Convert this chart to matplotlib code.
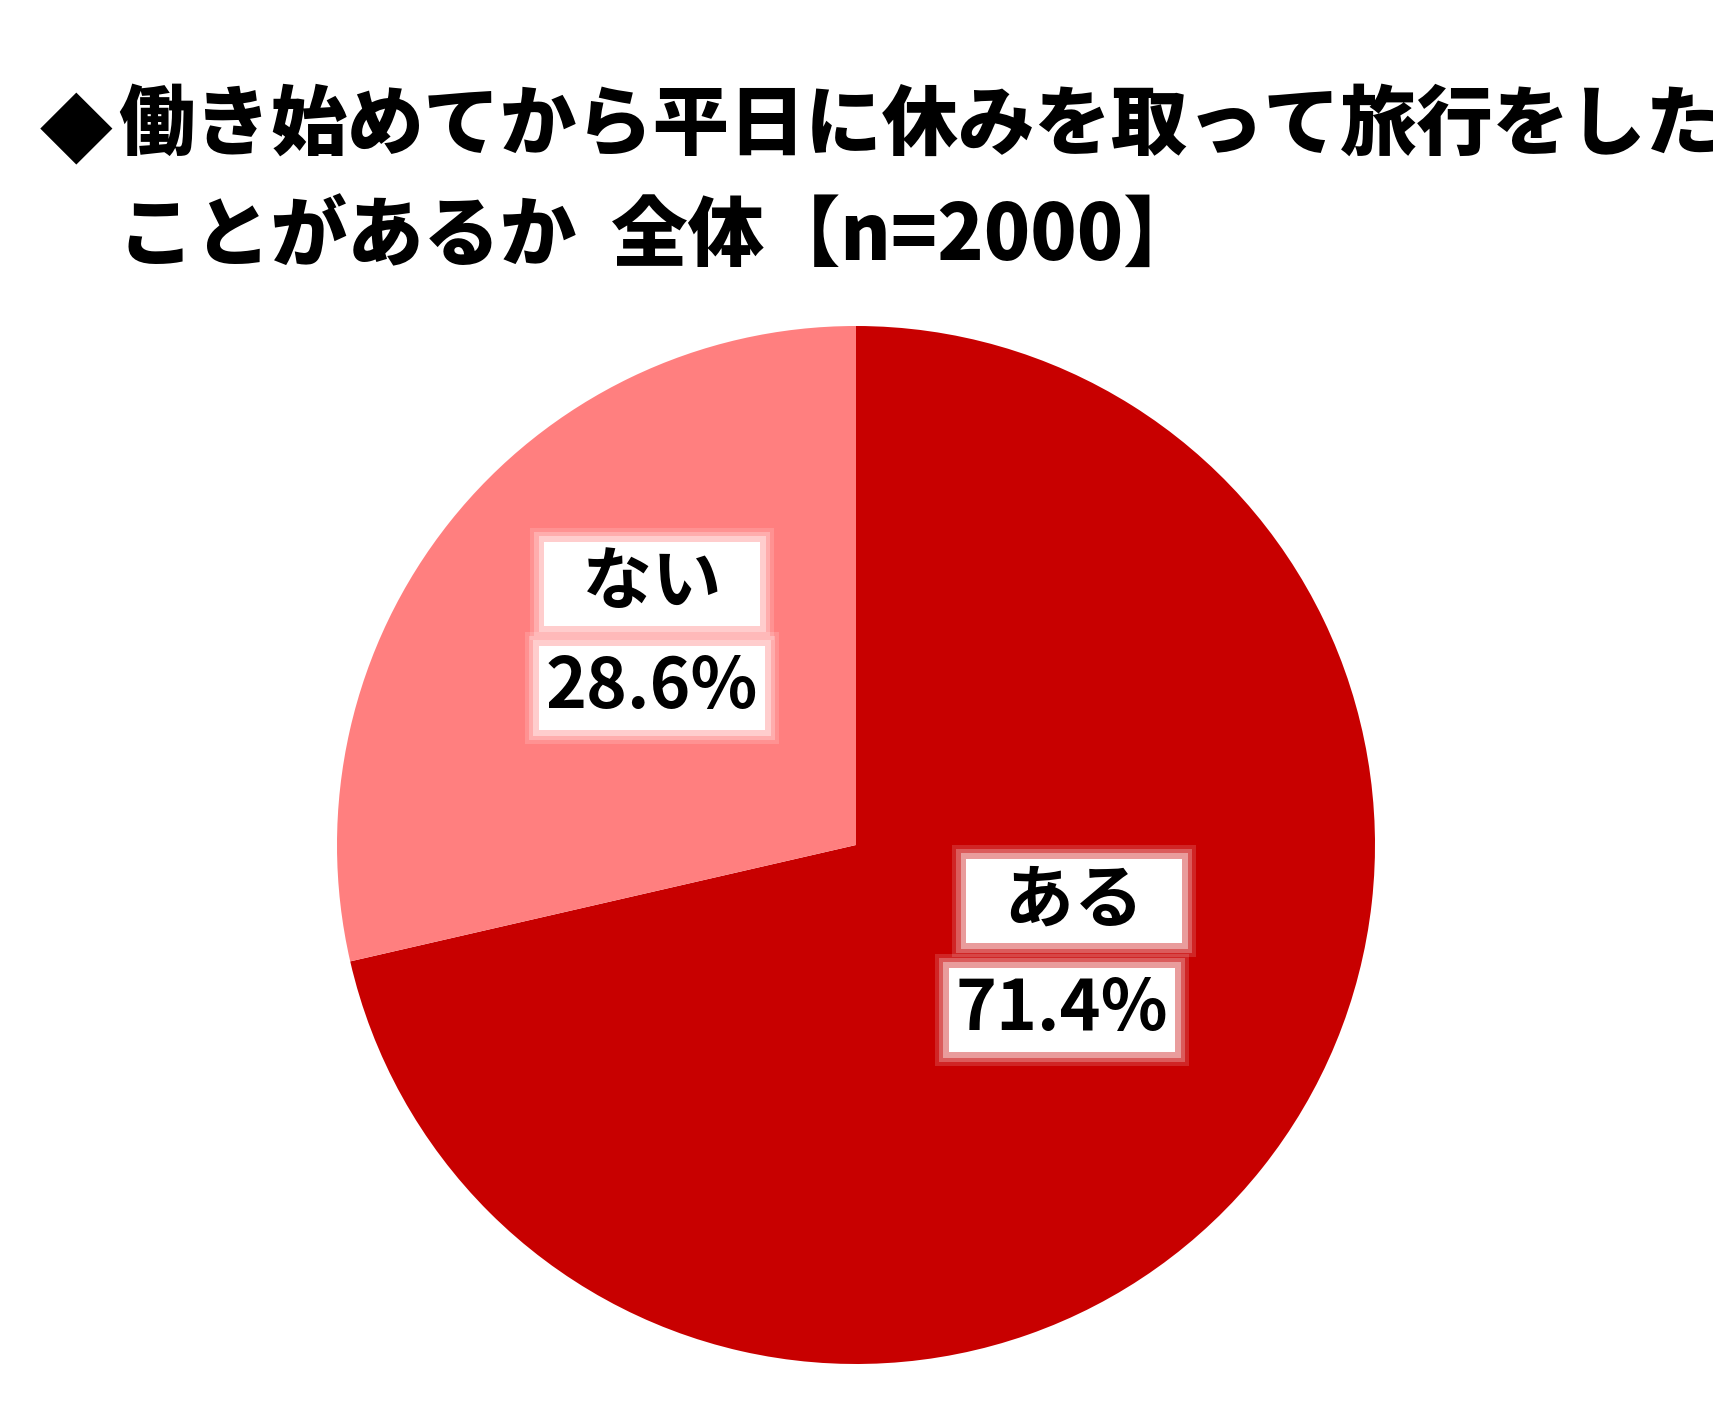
import matplotlib
matplotlib.use("Agg")
import matplotlib.pyplot as plt

plt.rcParams['font.family'] = ['Noto Sans CJK JP', 'DejaVu Sans']

categories = ["ある", "ない"]
values = [71.4, 28.6]
colors = ["#C80000", "#FF7F7F"]
title_line1 = "働き始めてから平日に休みを取って旅行をした"
title_line2 = "ことがあるか  全体【n=2000】"

W, H = 1713, 1410
fig = plt.figure(figsize=(W / 100, H / 100), dpi=100)
ax = fig.add_axes([0, 0, 1, 1])

cx, cy, r = 856, H - 845, 519
wedges, _ = ax.pie(values, colors=colors, startangle=90, counterclock=False,
                   center=(cx, cy), radius=r, frame=True,
                   wedgeprops=dict(linewidth=0))
ax.set_xlim(0, W)
ax.set_ylim(0, H)
ax.set_aspect('equal')
ax.axis('off')

label_pos = {
    "ない": ((652, H - 584), (652, H - 688)),
    "ある": ((1074, H - 901), (1062, H - 1010)),
}

def glow_text(x, y, s, size):
    for pad, a in [(0.30, 0.15), (0.24, 0.25), (0.18, 0.4)]:
        ax.text(x, y, s, ha='center', va='center', fontsize=size, fontweight='bold',
                color='none',
                bbox=dict(boxstyle=f'square,pad={pad}', fc='white', ec='none', alpha=a))
    ax.text(x, y, s, ha='center', va='center', fontsize=size, fontweight='bold',
            color='black',
            bbox=dict(boxstyle='square,pad=0.1', fc='white', ec='none'))

for cat, val in zip(categories, values):
    (nx, ny), (px, py) = label_pos[cat]
    glow_text(nx, ny, f"  {cat}  ", 50)
    glow_text(px, py, f"{val:.1f}%", 50)

fig.text(40 / W, 1 - 126 / H, "◆", fontsize=68, va='center', ha='left',
         family=['DejaVu Sans'])
fig.text(118 / W, 1 - 126 / H, title_line1, fontsize=55, fontweight='heavy', va='center', ha='left')
fig.text(118 / W, 1 - 238 / H, title_line2, fontsize=55, fontweight='heavy', va='center', ha='left')

fig.savefig("out.png", dpi=100)
